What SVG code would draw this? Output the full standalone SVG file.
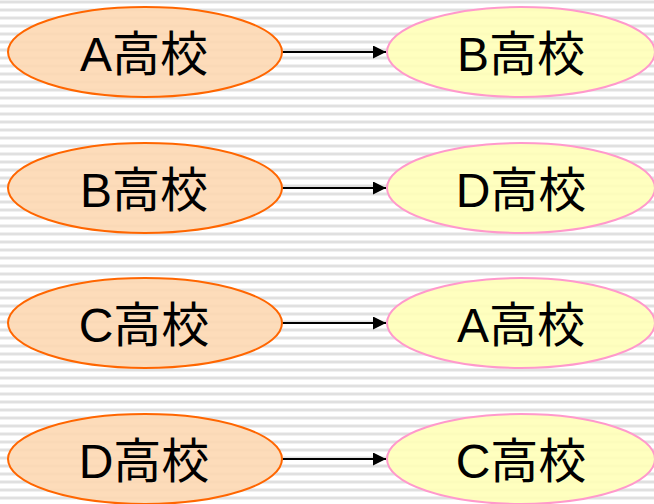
<svg xmlns="http://www.w3.org/2000/svg" width="654" height="504" viewBox="0 0 654 504">
<defs>
<pattern id="stripes" x="0" y="0" width="8" height="8" patternUnits="userSpaceOnUse">
<rect width="8" height="8" fill="#ffffff"/>
<rect y="0" width="8" height="1" fill="#f0f0f0"/>
<rect y="1" width="8" height="2" fill="#e0e0e0"/>
<rect y="3" width="8" height="1" fill="#f0f0f0"/>
</pattern>
<marker id="arr" viewBox="0 0 10 10" refX="10" refY="5" markerWidth="15" markerHeight="13" markerUnits="userSpaceOnUse" orient="auto">
<path d="M0,0 L10,5 L0,10 Z" fill="#000"/>
</marker>
<style>
.src{fill:#FDD8B2;fill-opacity:0.9;stroke:#FF6600;stroke-width:2}
.dst{fill:#FFFFB8;fill-opacity:0.9;stroke:#FF99CC;stroke-width:2}
.lbl{font-family:"Liberation Sans","Noto Sans CJK JP",sans-serif;font-size:48px;fill:#000;text-anchor:middle}
.con{stroke:#000;stroke-width:2;fill:none;marker-end:url(#arr)}
</style>
</defs>
<rect width="654" height="504" fill="url(#stripes)"/>
<g id="connectors">
<line class="con" x1="282" y1="52" x2="386" y2="52"/>
<line class="con" x1="282" y1="188" x2="386" y2="188"/>
<line class="con" x1="282" y1="323" x2="386" y2="323"/>
<line class="con" x1="282" y1="459" x2="386" y2="459"/>
</g>
<g id="srcA"><ellipse class="src" cx="145" cy="52" rx="137" ry="45"/><text class="lbl" x="144" y="71">A高校</text></g>
<g id="dstB"><ellipse class="dst" cx="521" cy="52" rx="134" ry="45"/><text class="lbl" x="521" y="71">B高校</text></g>
<g id="srcB"><ellipse class="src" cx="145" cy="188" rx="137" ry="45"/><text class="lbl" x="144" y="207">B高校</text></g>
<g id="dstD"><ellipse class="dst" cx="521" cy="188" rx="134" ry="45"/><text class="lbl" x="521" y="207">D高校</text></g>
<g id="srcC"><ellipse class="src" cx="145" cy="323" rx="137" ry="45"/><text class="lbl" x="144" y="342">C高校</text></g>
<g id="dstA"><ellipse class="dst" cx="521" cy="323" rx="134" ry="45"/><text class="lbl" x="521" y="342">A高校</text></g>
<g id="srcD"><ellipse class="src" cx="145" cy="459" rx="137" ry="45"/><text class="lbl" x="144" y="478">D高校</text></g>
<g id="dstC"><ellipse class="dst" cx="521" cy="459" rx="134" ry="45"/><text class="lbl" x="521" y="478">C高校</text></g>
</svg>
